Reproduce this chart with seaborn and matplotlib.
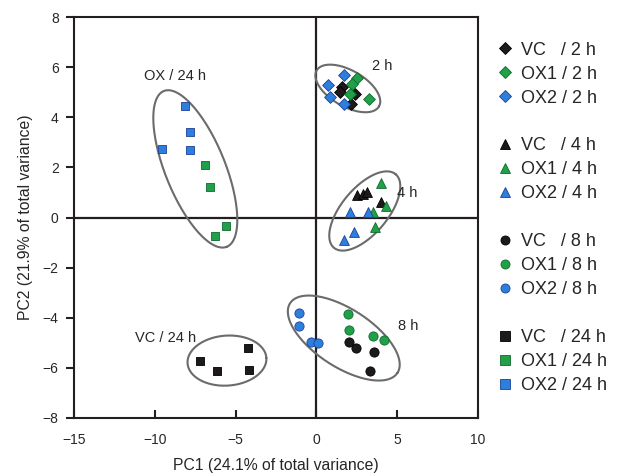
import numpy as np
import pandas as pd
import seaborn as sns
import matplotlib.pyplot as plt
from matplotlib.lines import Line2D

# scores (4 replicates per line and time point)
vc_2h_x = [1.59, 1.49, 2.41, 2.15]
vc_2h_y = [5.20, 5.00, 4.94, 4.54]
ox1_2h_x = [2.52, 2.21, 2.06, 3.24]
ox1_2h_y = [5.56, 5.33, 4.94, 4.74]
ox2_2h_x = [1.73, 0.70, 0.82, 1.69]
ox2_2h_y = [5.69, 5.30, 4.80, 4.51]

vc_4h_x = [2.52, 2.87, 3.14, 4.02]
vc_4h_y = [0.88, 0.95, 1.01, 0.61]
ox1_4h_x = [4.00, 4.31, 3.49, 3.65]
ox1_4h_y = [1.37, 0.45, 0.21, -0.39]
ox2_4h_x = [2.06, 3.20, 2.31, 1.73]
ox2_4h_y = [0.21, 0.21, -0.59, -0.88]

vc_8h_x = [2.04, 2.48, 3.55, 3.34]
vc_8h_y = [-4.95, -5.20, -5.37, -6.13]
ox1_8h_x = [1.94, 2.04, 3.51, 4.21]
ox1_8h_y = [-3.87, -4.48, -4.74, -4.88]
ox2_8h_x = [-1.09, -1.05, -0.33, 0.10]
ox2_8h_y = [-3.82, -4.31, -4.98, -5.02]

vc_24h_x = [-7.18, -6.15, -4.25, -4.19]
vc_24h_y = [-5.71, -6.13, -5.20, -6.10]
ox1_24h_x = [-6.87, -6.60, -5.59, -6.25]
ox1_24h_y = [2.09, 1.20, -0.32, -0.73]
ox2_24h_x = [-8.15, -7.80, -9.55, -7.84]
ox2_24h_y = [4.44, 3.43, 2.75, 2.70]

lines = ['VC', 'OX1', 'OX2']
times = ['2 h', '4 h', '8 h', '24 h']

groups = {
    ('VC', '2 h'): (vc_2h_x, vc_2h_y), ('OX1', '2 h'): (ox1_2h_x, ox1_2h_y), ('OX2', '2 h'): (ox2_2h_x, ox2_2h_y),
    ('VC', '4 h'): (vc_4h_x, vc_4h_y), ('OX1', '4 h'): (ox1_4h_x, ox1_4h_y), ('OX2', '4 h'): (ox2_4h_x, ox2_4h_y),
    ('VC', '8 h'): (vc_8h_x, vc_8h_y), ('OX1', '8 h'): (ox1_8h_x, ox1_8h_y), ('OX2', '8 h'): (ox2_8h_x, ox2_8h_y),
    ('VC', '24 h'): (vc_24h_x, vc_24h_y), ('OX1', '24 h'): (ox1_24h_x, ox1_24h_y), ('OX2', '24 h'): (ox2_24h_x, ox2_24h_y),
}

rows = []
for (line, t), (xs, ys) in groups.items():
    for x, y in zip(xs, ys):
        rows.append({'line': line, 'time': t, 'PC1': x, 'PC2': y})
df = pd.DataFrame(rows)

# confidence ellipses: centre (data units), semi-axes (pixels), tilt (degrees)
ell_cx = [1.95, 3.0, 1.70, -7.49, -5.53]
ell_cy = [5.15, 0.26, -4.81, 1.94, -5.71]
ell_a = [36, 48, 64, 84, 39.5]
ell_b = [18, 23, 29, 30, 25]
ell_ang = [-30, 50, -33, -68, 4]

face = {'VC': '#1e1a1b', 'OX1': '#20a048', 'OX2': '#2d7fdc'}
edge = {'VC': '#000000', 'OX1': '#0f6a2c', 'OX2': '#1d3f9c'}
mark = {'2 h': 'D', '4 h': '^', '8 h': 'o', '24 h': 's'}
msize = {'2 h': 36, '4 h': 50, '8 h': 44, '24 h': 40}

sns.set_theme(style='ticks')
plt.rcParams['font.family'] = ['Liberation Sans', 'DejaVu Sans']
ink = '#231f20'

fig = plt.figure(figsize=(6.19, 4.73), dpi=100)
ax = fig.add_axes([0.1195, 0.1163, 0.6525, 0.8477])
ax.set_xlim(-15, 10)
ax.set_ylim(-8, 8)

ax.axhline(0, color=ink, lw=1.6, zorder=1)
ax.axvline(0, color=ink, lw=1.6, zorder=1)

for t in times:
    for line in lines:
        sub = df[(df['line'] == line) & (df['time'] == t)]
        sns.scatterplot(data=sub, x='PC1', y='PC2', marker=mark[t], s=msize[t],
                        color=face[line], edgecolor=edge[line], linewidth=0.6,
                        ax=ax, legend=False, zorder=3)

# ellipses drawn in pixel space so the tilt looks right
pos = ax.get_position()
sx = pos.width * fig.get_figwidth() * fig.dpi / 25
sy = pos.height * fig.get_figheight() * fig.dpi / 16
tt = np.linspace(0, 2 * np.pi, 200)
for cx, cy, a, b, ang in zip(ell_cx, ell_cy, ell_a, ell_b, ell_ang):
    th = np.deg2rad(ang)
    px = a * np.cos(tt) * np.cos(th) - b * np.sin(tt) * np.sin(th)
    py = a * np.cos(tt) * np.sin(th) + b * np.sin(tt) * np.cos(th)
    ax.plot(cx + px / sx, cy + py / sy, color='#6b6b6b', lw=1.5, zorder=2)

ax.text(-8.73, 5.63, 'OX / 24 h', fontsize=10.5, ha='center', va='center')
ax.text(-9.34, -4.79, 'VC / 24 h', fontsize=10.5, ha='center', va='center')
ax.text(4.08, 6.03, '2 h', fontsize=10.5, ha='center', va='center')
ax.text(5.63, 0.96, '4 h', fontsize=10.5, ha='center', va='center')
ax.text(5.69, -4.31, '8 h', fontsize=10.5, ha='center', va='center')

ax.set_xticks(range(-15, 11, 5))
ax.set_yticks(range(-8, 9, 2))
ax.set_xticklabels([str(v).replace('-', '\u2212') for v in range(-15, 11, 5)])
ax.set_yticklabels([str(v).replace('-', '\u2212') for v in range(-8, 9, 2)])
ax.tick_params(axis='x', direction='in', length=6, width=1.5, color=ink, labelsize=10, pad=11)
ax.tick_params(axis='y', direction='out', length=6, width=1.5, color=ink, labelsize=10, pad=5)
for sp in ax.spines.values():
    sp.set_color(ink)
    sp.set_linewidth(1.5)

ax.set_xlabel('PC1 (24.1% of total variance)', fontsize=11.3, labelpad=8)
ax.set_ylabel('PC2 (21.9% of total variance)', fontsize=11.3, labelpad=7)

handles, labels = [], []
for i, t in enumerate(times):
    if i > 0:
        handles.append(Line2D([], [], linestyle='none'))
        labels.append('')
    for line in lines:
        handles.append(Line2D([], [], linestyle='none', marker=mark[t], markersize=6.5,
                              markerfacecolor=face[line], markeredgecolor=edge[line],
                              markeredgewidth=0.6))
        name = 'VC   ' if line == 'VC' else line + ' '
        labels.append(f'{name}/ {t}')
fig.legend(handles, labels, loc='upper left', bbox_to_anchor=(0.806, 0.912),
           frameon=False, fontsize=13, labelspacing=0.385, handlelength=0.7,
           handletextpad=0.55, borderpad=0, borderaxespad=0)

fig.savefig('out.png', dpi=100)
